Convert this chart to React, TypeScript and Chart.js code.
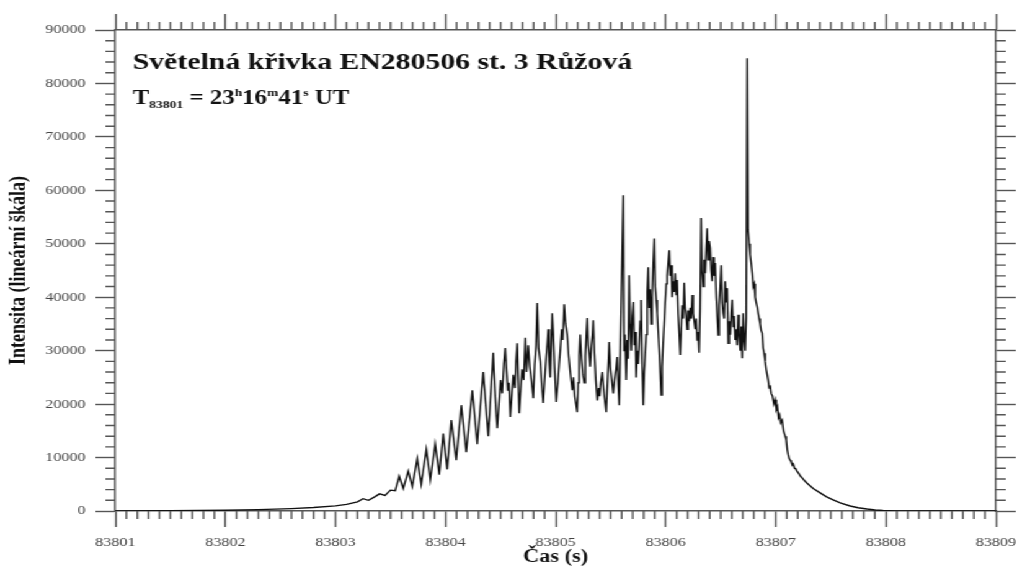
import React, { useEffect, useRef } from "react";
import { Chart, registerables } from "chart.js";

Chart.register(...registerables);

const SERIF = "'Liberation Serif', 'Times New Roman', serif";

// Light curve, split into phases: time (s) and intensity (linear scale)
const riseTimes = [
  83801.0, 83801.5, 83802.0, 83802.3, 83802.6, 83802.8, 83803.0, 83803.1, 83803.2, 83803.25,
  83803.3, 83803.36, 83803.4, 83803.45, 83803.5, 83803.543, 83803.579, 83803.616, 83803.661, 83803.698,
  83803.743, 83803.779, 83803.825, 83803.861, 83803.906, 83803.943, 83803.979, 83804.015, 83804.052, 83804.097,
  83804.143, 83804.188, 83804.243, 83804.288, 83804.342, 83804.388, 83804.433,
];
const riseValues = [
  0, 40, 150, 260, 450, 650, 950, 1250, 1700, 2300,
  2000, 2700, 3200, 2900, 3900, 3800, 6500, 4200, 7500, 4600,
  9800, 5000, 11500, 5800, 12500, 6800, 14500, 7800, 17000, 9500,
  19800, 11000, 22600, 12500, 26000, 14000, 29600,
];

const plateauTimes = [
  83804.445, 83804.458, 83804.47, 83804.485, 83804.5, 83804.515, 83804.53, 83804.542, 83804.555, 83804.565,
  83804.575, 83804.588, 83804.6, 83804.615, 83804.63, 83804.64, 83804.651, 83804.669, 83804.68, 83804.695,
  83804.71, 83804.724, 83804.735, 83804.751, 83804.765, 83804.78, 83804.797, 83804.81, 83804.822, 83804.833,
  83804.845, 83804.86, 83804.872, 83804.887, 83804.9, 83804.915, 83804.925, 83804.933, 83804.942, 83804.951,
  83804.96, 83804.969, 83804.978, 83804.99, 83805.005, 83805.02, 83805.032, 83805.042, 83805.055, 83805.065,
  83805.078, 83805.09, 83805.105, 83805.118, 83805.13, 83805.14, 83805.151, 83805.162, 83805.174, 83805.185,
  83805.196, 83805.205, 83805.214, 83805.223, 83805.235, 83805.248, 83805.26, 83805.27, 83805.28, 83805.287,
  83805.296, 83805.305, 83805.314, 83805.325, 83805.335, 83805.342, 83805.352, 83805.365, 83805.378, 83805.39,
  83805.4, 83805.41, 83805.423, 83805.435, 83805.448, 83805.46, 83805.47, 83805.48, 83805.487, 83805.497,
  83805.51, 83805.523, 83805.535, 83805.548, 83805.559, 83805.569,
];
const plateauValues = [
  24000, 19000, 15500, 20000, 24500, 22000, 27500, 30500, 26000, 22500,
  24000, 17600, 21000, 25500, 23000, 28000, 31400, 18300, 22000, 26500,
  24500, 32400, 26000, 31000, 27000, 24500, 21100, 27500, 31000, 38900,
  30500, 28000, 24000, 20200, 24500, 29000, 31500, 34000, 28000, 25000,
  31000, 37000, 33500, 27000, 20400, 24000, 27500, 30000, 34000, 32000,
  38700, 35000, 33000, 29000, 26500, 24500, 22600, 25000, 21500, 20000,
  18500, 24000, 29000, 33000, 28500, 25500, 24000, 29000, 33500, 36100,
  31000, 29500, 27000, 31000, 33000, 35700, 30000, 24500, 20700, 23000,
  21500, 24000, 26000, 23000, 20500, 18500, 23500, 28000, 31600, 27000,
  24500, 22000, 24500, 26500, 28800, 23500,
];

const flareTimes = [
  83805.578, 83805.614, 83805.622, 83805.63, 83805.641, 83805.65, 83805.659, 83805.668, 83805.677, 83805.687,
  83805.696, 83805.705, 83805.714, 83805.723, 83805.732, 83805.741, 83805.75, 83805.759, 83805.768, 83805.777,
  83805.786, 83805.796, 83805.805, 83805.814, 83805.823, 83805.832, 83805.841, 83805.85, 83805.859, 83805.868,
  83805.877, 83805.886, 83805.896, 83805.905, 83805.914, 83805.923, 83805.932, 83805.941, 83805.95, 83805.959,
  83805.968, 83805.977, 83805.986, 83805.995, 83806.005, 83806.014, 83806.023, 83806.032, 83806.041, 83806.05,
  83806.059, 83806.068, 83806.077, 83806.086, 83806.095, 83806.104, 83806.113, 83806.122, 83806.132, 83806.141,
  83806.15, 83806.159, 83806.168, 83806.177, 83806.186, 83806.195, 83806.204, 83806.213, 83806.223, 83806.232,
  83806.241, 83806.25, 83806.259, 83806.268, 83806.277, 83806.286, 83806.295, 83806.304, 83806.313, 83806.322,
  83806.331, 83806.341, 83806.35, 83806.359, 83806.368, 83806.377, 83806.386, 83806.395, 83806.404, 83806.413,
  83806.422, 83806.431, 83806.44, 83806.45, 83806.459, 83806.468, 83806.477, 83806.486, 83806.495, 83806.504,
  83806.513, 83806.522, 83806.531, 83806.54, 83806.549, 83806.559, 83806.568, 83806.577, 83806.586, 83806.595,
  83806.604, 83806.613, 83806.622, 83806.631, 83806.64, 83806.649, 83806.658, 83806.667, 83806.677, 83806.686,
  83806.695, 83806.704, 83806.713, 83806.722, 83806.731, 83806.74, 83806.749,
];
const flareValues = [
  19800, 59100, 30000, 33000, 24500, 32000, 28500, 44100, 35000, 30000,
  36500, 39100, 31000, 33500, 25000, 30000, 27500, 31000, 35500, 39500,
  28000, 19800, 26000, 29500, 33000, 41000, 45600, 38000, 41500, 35000,
  40000, 46000, 51000, 42000, 39500, 37000, 33500, 30000, 26000, 21700,
  27000, 31500, 35000, 39000, 42500, 44000, 46500, 48800, 44000, 46000,
  40000, 43000, 41000, 44500, 40500, 43200, 37000, 33500, 29200, 34000,
  38500, 36000, 42700, 38000, 36500, 34000, 37500, 35500, 38000, 36000,
  40400, 37000, 35500, 34000, 36000, 32000, 33500, 29600, 38000, 54800,
  45000, 42000, 47000, 44500, 49000, 52900, 47000, 50500, 49200, 45000,
  43000, 47500, 44000, 46400, 40000, 36500, 32900, 38500, 42000, 46000,
  39000, 37000, 36000, 43000, 39000, 41700, 31400, 35500, 33000, 37000,
  39500, 34500, 36500, 32000, 34000, 31000, 36700, 33000, 30000, 34500,
  28600, 37000, 32000, 30000, 36000, 84700, 52600,
];

const decayTimes = [
  83806.758, 83806.767, 83806.776, 83806.786, 83806.795, 83806.804, 83806.813, 83806.822, 83806.831, 83806.84,
  83806.849, 83806.858, 83806.867, 83806.876, 83806.885, 83806.894, 83806.904, 83806.913, 83806.922, 83806.931,
  83806.94, 83806.949, 83806.958, 83806.97, 83806.983, 83806.995, 83807.005, 83807.015, 83807.025, 83807.035,
  83807.045, 83807.058, 83807.07, 83807.085, 83807.095, 83807.104, 83807.113, 83807.122, 83807.131, 83807.14,
  83807.15, 83807.158, 83807.17, 83807.182, 83807.194, 83807.21, 83807.225, 83807.24, 83807.26, 83807.285,
  83807.34, 83807.403, 83807.458, 83807.521, 83807.585, 83807.676, 83807.748, 83807.83, 83807.903, 83807.975,
  83808.084, 83809.0,
];
const decayValues = [
  50000, 48000, 46500, 44500, 42000, 42500, 40000, 39000, 38200, 37000,
  36000, 35000, 33800, 33300, 30500, 29500, 28000, 26500, 25500, 24500,
  23000, 23500, 22000, 21500, 20000, 20800, 19000, 19500, 17500, 18000,
  16500, 17000, 15000, 14000, 13300, 11500, 10500, 9800, 9500, 9200,
  8600, 8800, 8000, 7900, 7400, 7000, 6500, 6200, 5700, 5200,
  4200, 3400, 2700, 2100, 1500, 940, 600, 370, 200, 100,
  30, 0,
];

const times = [...riseTimes, ...plateauTimes, ...flareTimes, ...decayTimes];
const intensity = [...riseValues, ...plateauValues, ...flareValues, ...decayValues];

const xMin = 83801;
const xMax = 83809;
const yMax = 90000;
const yStep = 10000;

const titleText = "Světelná křivka EN280506 st. 3 Růžová";
const yTitleText = "Intensita (lineární škála)";
const xTitleText = "Čas (s)";

// The drawing is laid out on a narrower canvas and widened horizontally
const CANVAS_W = 820;
const CANVAS_H = 568;
const STRETCH = 1017 / CANVAS_W;

const AXIS_COLOR = "#555";
const AXIS_WIDTH = 1.4;
const MAJOR_LEN = 16;
const MINOR_LEN = 8;

function fixSize(size: { width?: number; height?: number }) {
  return (scale: any) => {
    if (size.width !== undefined) scale.width = size.width;
    if (size.height !== undefined) scale.height = size.height;
    scale.paddingLeft = 0;
    scale.paddingRight = 0;
    scale.paddingTop = 0;
    scale.paddingBottom = 0;
  };
}

const gridOpts = {
  drawOnChartArea: false,
  drawTicks: true,
  tickLength: MAJOR_LEN,
  tickColor: AXIS_COLOR,
  tickWidth: AXIS_WIDTH,
  color: AXIS_COLOR,
};

const borderOpts = { display: true, color: AXIS_COLOR, width: AXIS_WIDTH };

// Minor tick marks on all four sides plus the heading texts
const decorPlugin = {
  id: "lightCurveDecor",
  afterDraw(chart: any) {
    const { ctx, chartArea } = chart;
    const x = chart.scales.x;
    const y = chart.scales.y;
    ctx.save();
    ctx.strokeStyle = AXIS_COLOR;
    ctx.lineWidth = AXIS_WIDTH;
    ctx.beginPath();
    for (let i = 1; i < (xMax - xMin) * 10; i++) {
      if (i % 10 === 0) continue;
      const px = x.getPixelForValue(xMin + i / 10);
      ctx.moveTo(px, chartArea.bottom);
      ctx.lineTo(px, chartArea.bottom + MINOR_LEN);
      ctx.moveTo(px, chartArea.top);
      ctx.lineTo(px, chartArea.top - MINOR_LEN);
    }
    for (let i = 1; i < yMax / 2000; i++) {
      if (i % 5 === 0) continue;
      const py = y.getPixelForValue(i * 2000);
      ctx.moveTo(chartArea.left, py);
      ctx.lineTo(chartArea.left - MINOR_LEN, py);
      ctx.moveTo(chartArea.right, py);
      ctx.lineTo(chartArea.right + MINOR_LEN, py);
    }
    ctx.stroke();

    // Heading
    ctx.fillStyle = "#111";
    ctx.textBaseline = "alphabetic";
    ctx.textAlign = "left";
    ctx.font = `bold 24px ${SERIF}`;
    ctx.fillText(titleText, 107, 69);

    // Reference time line with sub/superscripts
    const base = 104;
    let cx = 107;
    const runs: [string, number, number][] = [
      ["T", 20, 0],
      ["83801", 11, 4],
      [" = 23", 20, 0],
      ["h", 11, -8],
      ["16", 20, 0],
      ["m", 11, -8],
      ["41", 20, 0],
      ["s", 11, -8],
      [" UT", 20, 0],
    ];
    for (const [txt, size, dy] of runs) {
      ctx.font = `bold ${size}px ${SERIF}`;
      ctx.fillText(txt, cx, base + dy);
      cx += ctx.measureText(txt).width;
    }
    ctx.restore();
  },
};

export default function App() {
  const canvasRef = useRef<HTMLCanvasElement | null>(null);

  useEffect(() => {
    const canvas = canvasRef.current;
    if (!canvas) return;
    const points = times.map((t, i) => ({ x: t, y: intensity[i] }));
    const tickFont = { family: SERIF, size: 13 };
    const chart = new Chart(canvas, {
      type: "line",
      data: {
        datasets: [
          {
            data: points,
            xAxisID: "x",
            yAxisID: "y",
            borderColor: "#111",
            borderWidth: 1.4,
            pointRadius: 0,
            tension: 0,
            fill: false,
          },
        ],
      },
      options: {
        responsive: false,
        maintainAspectRatio: false,
        animation: false,
        events: [],
        layout: { padding: 0 },
        plugins: {
          legend: { display: false },
          tooltip: { enabled: false },
        },
        scales: {
          x: {
            type: "linear",
            position: "bottom",
            min: xMin,
            max: xMax,
            grid: gridOpts,
            border: borderOpts,
            ticks: {
              stepSize: 1,
              autoSkip: false,
              maxRotation: 0,
              padding: 8,
              color: "#444",
              font: tickFont,
              callback: (v: any) => String(v),
            },
            title: {
              display: true,
              text: xTitleText,
              color: "#111",
              font: { family: SERIF, size: 18, weight: "bold" },
              padding: { top: 0, bottom: 0 },
            },
            afterFit: fixSize({ height: CANVAS_H - 511 }),
          },
          x2: {
            type: "linear",
            position: "top",
            min: xMin,
            max: xMax,
            grid: gridOpts,
            border: borderOpts,
            ticks: { stepSize: 1, display: false },
            afterFit: fixSize({ height: 30 }),
          },
          y: {
            type: "linear",
            position: "left",
            min: 0,
            max: yMax,
            grid: gridOpts,
            border: borderOpts,
            ticks: {
              stepSize: yStep,
              padding: 8,
              color: "#444",
              font: tickFont,
              callback: (v: any) => String(v),
            },
            title: {
              display: true,
              text: yTitleText,
              color: "#111",
              font: { family: SERIF, size: 18, weight: "bold" },
              padding: { top: 5, bottom: 0 },
            },
            afterFit: fixSize({ width: 93 }),
          },
          y2: {
            type: "linear",
            position: "right",
            min: 0,
            max: yMax,
            grid: gridOpts,
            border: borderOpts,
            ticks: { stepSize: yStep, display: false },
            afterFit: fixSize({ width: CANVAS_W - 803 }),
          },
        },
      } as any,
      plugins: [decorPlugin],
    });
    return () => chart.destroy();
  }, []);

  return (
    <div
      style={{
        position: "absolute",
        left: 0,
        top: 0,
        width: CANVAS_W,
        height: CANVAS_H,
        background: "#fff",
        transform: `scaleX(${STRETCH})`,
        transformOrigin: "0 0",
      }}
    >
      <canvas
        ref={canvasRef}
        width={CANVAS_W}
        height={CANVAS_H}
        style={{ display: "block", width: CANVAS_W, height: CANVAS_H }}
      />
    </div>
  );
}
